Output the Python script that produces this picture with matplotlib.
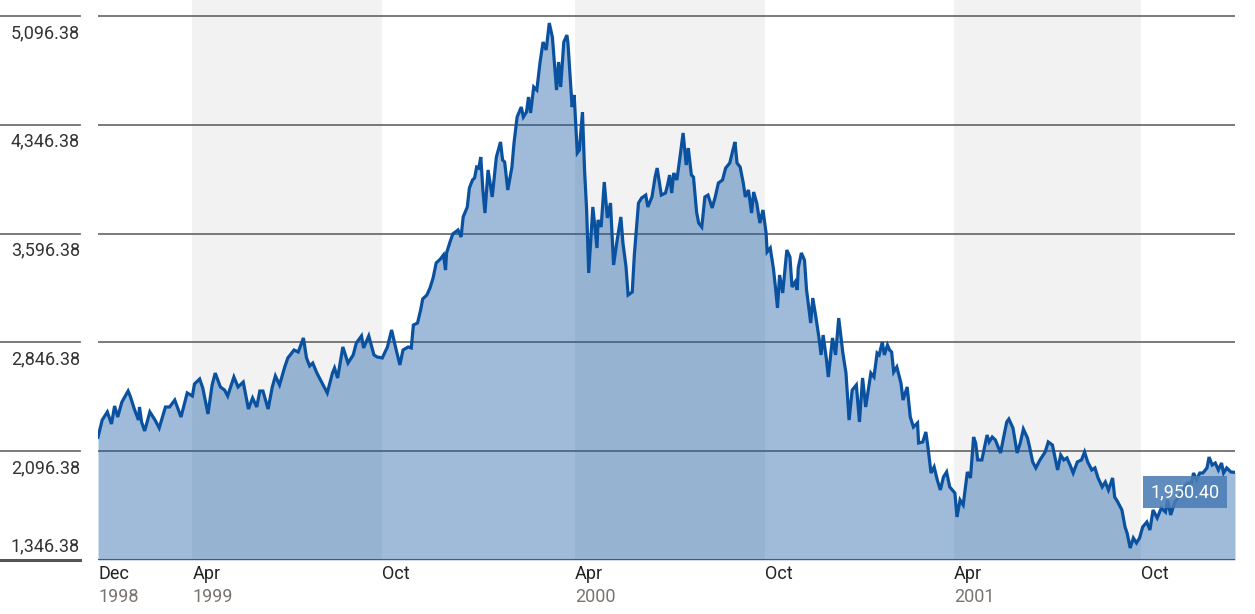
import numpy as np
import pandas as pd
import matplotlib
matplotlib.use('Agg')
import matplotlib.pyplot as plt
from matplotlib.transforms import blended_transform_factory, offset_copy

plt.rcParams['font.family'] = ['Liberation Sans Narrow', 'Roboto', 'DejaVu Sans']

# Datos (días desde 31-dic-1998, nivel del índice)
start = pd.Timestamp('1998-12-31')
end = pd.Timestamp('2001-12-31')

days = [0, 4, 9, 13, 16, 19, 23, 29, 31, 35, 39, 40, 42, 45, 50, 55, 59, 65, 69, 74,
        80, 86, 91, 93, 98, 101, 106, 110, 113, 118, 122, 125, 131, 135, 140, 145, 149, 153, 156, 159,
        164, 168, 171, 175, 180, 183, 189, 193, 198, 201, 204, 207, 211, 216, 221, 226, 228, 231, 236, 241,
        246, 249, 254, 256, 261, 266, 269, 274, 279, 283, 287, 291, 294, 299, 302, 304, 308, 311, 313, 317,
        320, 323, 326, 330, 333, 335, 336, 339, 342, 347, 350, 352, 356, 358, 361, 363, 365, 367, 369, 371,
        373, 376, 380, 384, 388, 390, 392, 395, 399, 401, 404, 408, 410, 413, 415, 417, 420, 423, 426, 429,
        432, 435, 438, 442, 444, 446, 449, 452, 453, 457, 459, 462, 464, 467, 469, 471, 473, 477, 481, 482,
        485, 488, 491, 494, 497, 500, 504, 506, 509, 511, 515, 517, 521, 524, 528, 530, 534, 537, 539, 543,
        547, 549, 551, 553, 555, 558, 561, 564, 567, 569, 572, 574, 577, 579, 582, 585, 588, 592, 595, 598,
        602, 605, 609, 612, 614, 616, 619, 622, 624, 627, 630, 632, 635, 638, 641, 644, 645, 648, 651, 653,
        655, 657, 660, 664, 667, 669, 672, 674, 675, 678, 681, 683, 687, 689, 692, 695, 697, 699, 702, 704,
        708, 711, 714, 718, 721, 724, 727, 731, 734, 737, 740, 745, 748, 751, 753, 756, 758, 761, 763, 765,
        767, 770, 774, 776, 780, 783, 786, 790, 791, 795, 798, 800, 803, 806, 809, 812, 815, 818, 821, 826,
        828, 831, 834, 838, 841, 844, 846, 848, 852, 857, 859, 862, 865, 870, 873, 876, 878, 882, 886, 889,
        892, 896, 898, 901, 904, 908, 913, 916, 920, 923, 925, 928, 931, 934, 937, 940, 944, 948, 951, 954,
        958, 961, 964, 968, 971, 974, 978, 980, 983, 987, 990, 992, 995, 998, 1001, 1004, 1007, 1011, 1014, 1017,
        1021, 1025, 1029, 1031, 1034, 1038, 1042, 1047, 1050, 1054, 1056, 1059, 1062, 1065, 1069, 1071, 1074, 1077, 1080, 1083,
        1085, 1088, 1092, 1096]

values = [2192.69, 2311, 2367, 2284, 2408, 2332, 2435, 2511, 2477, 2387, 2311, 2401, 2298, 2236, 2367, 2311, 2256, 2401, 2401, 2449,
          2332, 2498, 2477, 2560, 2594, 2532, 2353, 2553, 2635, 2539, 2518, 2477, 2608, 2539, 2573, 2387, 2463, 2401, 2511, 2511,
          2387, 2539, 2615, 2553, 2677, 2739, 2794, 2780, 2877, 2739, 2684, 2704, 2635, 2566, 2498, 2635, 2670, 2601, 2815, 2704,
          2760, 2842, 2891, 2808, 2891, 2760, 2746, 2739, 2815, 2932, 2808, 2691, 2794, 2815, 2808, 2966, 2980, 3070, 3146, 3173,
          3221, 3290, 3394, 3421, 3449, 3345, 3463, 3532, 3594, 3621, 3573, 3711, 3780, 3911, 3966, 3980, 4055, 4048, 4124, 3897,
          3738, 4035, 3849, 4124, 4228, 4104, 4090, 3897, 4055, 4221, 4400, 4469, 4400, 4434, 4538, 4428, 4607, 4586, 4772, 4917,
          4862, 5048, 4951, 4586, 4779, 4607, 4917, 4965, 4910, 4469, 4552, 4152, 4172, 4434, 4035, 3759, 3325, 3780, 3497, 3690,
          3642, 3952, 3704, 3807, 3380, 3532, 3711, 3532, 3366, 3173, 3194, 3449, 3807, 3842, 3862, 3780, 3849, 3986, 4048, 3862,
          3876, 3931, 4000, 3876, 4014, 3966, 4124, 4290, 4069, 4186, 4000, 3986, 3745, 3669, 3642, 3849, 3862, 3773, 3849, 3945,
          3966, 4048, 4083, 4172, 4228, 4083, 4055, 3945, 3849, 3897, 3738, 3883, 3807, 3669, 3759, 3600, 3470, 3497, 3359, 3228,
          3084, 3311, 3187, 3483, 3435, 3228, 3263, 3208, 3359, 3463, 3414, 3208, 2980, 3152, 3021, 2877, 2760, 2897, 2739, 2608,
          2877, 2760, 3014, 2773, 2635, 2311, 2518, 2553, 2298, 2601, 2401, 2635, 2608, 2773, 2760, 2849, 2760, 2828, 2794, 2780,
          2642, 2677, 2566, 2449, 2539, 2332, 2263, 2291, 2153, 2160, 2229, 2125, 1946, 1988, 1898, 1829, 1919, 1953, 1850, 1808,
          1643, 1760, 1726, 1953, 1912, 2194, 2153, 2036, 2036, 2208, 2160, 2194, 2174, 2084, 2194, 2298, 2318, 2256, 2084, 2153,
          2249, 2187, 2125, 2022, 1981, 2036, 2091, 2160, 2139, 2036, 1967, 2070, 2036, 2050, 2001, 1946, 2022, 2036, 2091, 2022,
          1967, 1981, 1912, 1850, 1884, 1829, 1912, 1781, 1746, 1691, 1574, 1532, 1429, 1498, 1464, 1498, 1574, 1608, 1553, 1691,
          1636, 1705, 1677, 1760, 1657, 1746, 1781, 1843, 1877, 1877, 1946, 1898, 1946, 1946, 1981, 2056, 2001, 2015, 1967, 2015,
          1946, 1981, 1953, 1950.40]

yticks = [1346.38, 2096.38, 2846.38, 3596.38, 4346.38, 5096.38]

tick_dates = ['1998-12-31', '1999-04-01', '1999-10-01', '2000-04-04', '2000-10-04', '2001-04-04', '2001-10-01']
tick_months = ['Dec', 'Apr', 'Oct', 'Apr', 'Oct', 'Apr', 'Oct']
tick_years = ['1998', '1999', '', '2000', '', '2001', '']

bands = [('1999-04-01', '1999-10-01'), ('2000-04-04', '2000-10-04'), ('2001-04-04', '2001-10-01')]

dates = start + pd.to_timedelta(days, unit='D')
values = np.array(values)

fig = plt.figure(figsize=(12.55, 6.14), dpi=100)
ax = fig.add_axes([98 / 1255, 1 - 560 / 614, 1137 / 1255, 560 / 614])

# franjas grises
for a, b in bands:
    ax.axvspan(pd.Timestamp(a), pd.Timestamp(b), color='#f2f2f2', lw=0, zorder=0)

# líneas de la cuadrícula (también a la izquierda, bajo las etiquetas)
blend = blended_transform_factory(ax.transAxes, ax.transData)
for v in yticks[1:]:
    ax.axhline(v, color='#6f6f6f', lw=1.3, zorder=1)
    ax.plot([-98 / 1137, -18 / 1137], [v, v], color='#6f6f6f', lw=1.3,
            transform=blend, clip_on=False)
ax.plot([-98 / 1137, -18 / 1137], [yticks[0], yticks[0]], color='#555555', lw=2.2,
        transform=blend, clip_on=False)

# área y línea
ax.fill_between(dates, values, yticks[0], color='#1a5da6', alpha=0.42, lw=0, zorder=2)
ax.plot(dates, values, color='#0a52a0', lw=2.3, zorder=3, solid_joinstyle='miter')
ax.axhline(yticks[0], color='#4f5965', lw=2.2, zorder=4)

ax.set_xlim(start, end)
ax.set_ylim(yticks[0], yticks[-1] + 16 * 750 / 108.8)
ax.set_xticks([])
ax.set_yticks([])
for s in ax.spines.values():
    s.set_visible(False)

# etiquetas del eje y
for i, v in enumerate(yticks):
    off = 14 if i == 0 else -17
    tr = offset_copy(blend, fig=fig, y=off, units='dots')
    ax.text(-18 / 1137, v, f'{v:,.2f}', transform=tr, ha='right', va='center',
            fontsize=13, color='#333333')

# etiquetas del eje x
xblend = blended_transform_factory(ax.transData, ax.transAxes)
for d, m, yr in zip(tick_dates, tick_months, tick_years):
    ax.text(pd.Timestamp(d), 0, m, transform=offset_copy(xblend, fig=fig, y=-14, units='dots'),
            ha='left', va='center', fontsize=13, color='#222222')
    if yr:
        ax.text(pd.Timestamp(d), 0, yr, transform=offset_copy(xblend, fig=fig, y=-37, units='dots'),
                ha='left', va='center', fontsize=13, color='#7a7470')

# último valor
ax.text(0.956, 0.121, f'{values[-1]:,.2f}', transform=ax.transAxes, ha='center', va='center',
        fontsize=13, color='white', zorder=5,
        bbox=dict(boxstyle='square,pad=0.4', fc='#4a7db5', ec='none', alpha=0.88))

fig.savefig('out.png', dpi=100)
